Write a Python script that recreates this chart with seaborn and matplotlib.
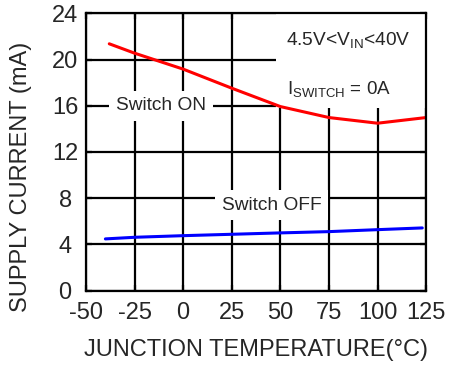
import matplotlib
matplotlib.use("Agg")
import matplotlib.pyplot as plt
import seaborn as sns
import pandas as pd

# Supply current vs. junction temperature
temp_on = [-38, -25, 0, 25, 50, 75, 100, 125]
current_on = [21.36, 20.55, 19.17, 17.52, 15.93, 14.98, 14.49, 14.98]

temp_off = [-40, -25, 0, 25, 50, 75, 100, 123]
current_off = [4.48, 4.62, 4.76, 4.88, 5.0, 5.11, 5.28, 5.43]

x_ticks = [-50, -25, 0, 25, 50, 75, 100, 125]
y_ticks = [0, 4, 8, 12, 16, 20, 24]

sns.set_theme(style="white")
plt.rcParams["font.family"] = ["Liberation Sans", "DejaVu Sans"]
plt.rcParams["axes.unicode_minus"] = False

df_on = pd.DataFrame({"temp": temp_on, "current": current_on})
df_off = pd.DataFrame({"temp": temp_off, "current": current_off})

fig = plt.figure(figsize=(4.5, 3.65), dpi=100)
ax = fig.add_axes([0.191, 0.2036, 0.756, 0.76])

ax.set_xlim(-50, 125)
ax.set_ylim(0, 24)
ax.set_xticks(x_ticks)
ax.set_yticks(y_ticks)
ax.grid(True, color="black", linewidth=1.6, zorder=0)
ax.set_axisbelow(True)

sns.lineplot(data=df_on, x="temp", y="current", ax=ax, color="#ff0000",
             linewidth=2.2, zorder=4)
sns.lineplot(data=df_off, x="temp", y="current", ax=ax, color="#0000ff",
             linewidth=2.2, zorder=4)

ax.text(-11.5, 16, "Switch ON", fontsize=13.8, ha="center", va="center",
        zorder=3, bbox=dict(facecolor="white", edgecolor="none",
                            boxstyle="square,pad=0.35"))
ax.text(45.5, 7.4, "Switch OFF", fontsize=13.8, ha="center", va="center",
        zorder=3, bbox=dict(facecolor="white", edgecolor="none",
                            boxstyle="square,pad=0.35"))

# White panel behind the operating conditions
ax.add_patch(plt.Rectangle((48, 15.8), 78, 8.3, facecolor="white",
                           edgecolor="none", zorder=2))
ax.text(85, 21.6, r"4.5V<V$_{\mathregular{IN}}$<40V", fontsize=13.8,
        ha="center", va="center", zorder=3)
ax.text(53.5, 17.4, r"I$_{\mathregular{SWITCH}}$ = 0A", fontsize=13.5,
        ha="left", va="center", zorder=3)

ax.tick_params(axis="both", which="both", direction="in", length=4.5,
               width=1.6, color="black", labelsize=17, top=True, right=True,
               bottom=True, left=True, zorder=5)
ax.tick_params(axis="x", pad=8)
ax.tick_params(axis="y", pad=15)
for lbl in ax.get_yticklabels():
    lbl.set_horizontalalignment("center")
for side in ax.spines.values():
    side.set_color("black")
    side.set_linewidth(1.6)
    side.set_zorder(5)

ax.set_xlabel("JUNCTION TEMPERATURE(°C)", fontsize=17, labelpad=11)
ax.set_ylabel("SUPPLY CURRENT (mA)", fontsize=17)
ax.yaxis.set_label_coords(-0.158, 0.41)

fig.savefig("out.png", dpi=100)
